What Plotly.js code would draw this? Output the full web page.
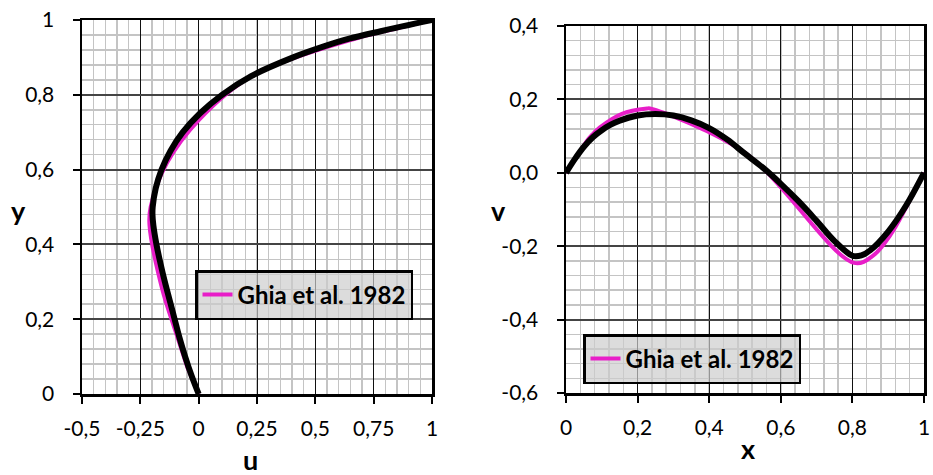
<!DOCTYPE html>
<html><head><meta charset="utf-8">
<script src="https://cdn.plot.ly/plotly-3.0.1.min.js"></script>
<style>html,body{margin:0;padding:0;background:#fff}</style>
</head><body>
<div id="chart" style="width:933px;height:475px"></div>
<script>
// Left panel: u along vertical centerline
const ghiaY = [0, 0.0547, 0.0625, 0.0703, 0.1016, 0.1719, 0.2813, 0.4531, 0.5, 0.6172, 0.7344, 0.8516, 0.9531, 0.9609, 0.9688, 0.9766, 1.0];
const ghiaU = [0, -0.03717, -0.04192, -0.04775, -0.06434, -0.10150, -0.15662, -0.21090, -0.20581, -0.13641, 0.00332, 0.23151, 0.68717, 0.73722, 0.78871, 0.84123, 1.0];
const simY = [0, 0.05, 0.1, 0.15, 0.2, 0.25, 0.3, 0.35, 0.4, 0.45, 0.48, 0.5, 0.55, 0.6, 0.65, 0.7, 0.75, 0.8, 0.85, 0.9, 0.93, 0.95, 0.97, 1.0];
const simU = [0, -0.031, -0.058, -0.082, -0.103, -0.124, -0.145, -0.164, -0.181, -0.194, -0.198, -0.197, -0.184, -0.159, -0.121, -0.068, 0.005, 0.100, 0.225, 0.405, 0.540, 0.645, 0.780, 1.0];
// Right panel: v along horizontal centerline
const ghiaX = [0, 0.0625, 0.0703, 0.0781, 0.0938, 0.1563, 0.2266, 0.2344, 0.5, 0.8047, 0.8594, 0.9063, 0.9453, 0.9531, 0.9609, 0.9688, 1.0];
const ghiaV = [0, 0.09233, 0.10091, 0.10890, 0.12317, 0.16077, 0.17507, 0.17527, 0.05454, -0.24533, -0.22445, -0.16914, -0.10313, -0.08864, -0.07391, -0.05906, 0];
const simX = [0, 0.025, 0.05, 0.075, 0.1, 0.125, 0.15, 0.2, 0.25, 0.3, 0.35, 0.4, 0.45, 0.5, 0.55, 0.6, 0.65, 0.7, 0.75, 0.8, 0.825, 0.85, 0.9, 0.95, 1.0];
const simV = [0, 0.038, 0.071, 0.097, 0.116, 0.131, 0.142, 0.156, 0.160, 0.156, 0.143, 0.122, 0.091, 0.052, 0.014, -0.030, -0.078, -0.131, -0.186, -0.226, -0.225, -0.211, -0.160, -0.089, 0];

const uTickVals = [-0.5, -0.25, 0, 0.25, 0.5, 0.75, 1];
const uTickText = ['-0,5', '-0,25', '0', '0,25', '0,5', '0,75', '1'];
const yTickVals = [0, 0.2, 0.4, 0.6, 0.8, 1];
const yTickText = ['0', '0,2', '0,4', '0,6', '0,8', '1'];
const xTickVals = [0, 0.2, 0.4, 0.6, 0.8, 1];
const xTickText = ['0', '0,2', '0,4', '0,6', '0,8', '1'];
const vTickVals = [-0.6, -0.4, -0.2, 0, 0.2, 0.4];
const vTickText = ['-0,6', '-0,4', '-0,2', '0,0', '0,2', '0,4'];
const legendName = 'Ghia et al. 1982';

const MAG = '#e81ec8';
const FONT = 'Lato, "Open Sans", sans-serif';

const traces = [
  {x: ghiaU, y: ghiaY, xaxis: 'x', yaxis: 'y', mode: 'lines', name: legendName,
   line: {color: MAG, width: 4, shape: 'spline', smoothing: 1}, legend: 'legend', showlegend: true},
  {x: simU, y: simY, xaxis: 'x', yaxis: 'y', mode: 'lines', name: 'sim',
   line: {color: '#000', width: 6, shape: 'spline', smoothing: 1}, showlegend: false},
  {x: ghiaX, y: ghiaV, xaxis: 'x2', yaxis: 'y2', mode: 'lines', name: legendName,
   line: {color: MAG, width: 4, shape: 'spline', smoothing: 1}, legend: 'legend2', showlegend: true},
  {x: simX, y: simV, xaxis: 'x2', yaxis: 'y2', mode: 'lines', name: 'sim2',
   line: {color: '#000', width: 6, shape: 'spline', smoothing: 1}, showlegend: false}
];

function axisBase(tv, tt, rng, minorD, minorT0, dom, anchor, gridCol, gridW) {
  return {
    range: rng, domain: dom, anchor: anchor,
    tickmode: 'array', tickvals: tv, ticktext: tt,
    ticks: 'outside', ticklen: 7, tickwidth: 2, tickcolor: '#000',
    showline: true, linecolor: '#000', linewidth: 2.5, mirror: true,
    showgrid: true, gridcolor: gridCol, gridwidth: gridW,
    zeroline: false,
    minor: {tickmode: 'linear', tick0: minorT0, dtick: minorD, showgrid: true,
            gridcolor: '#c4c4c4', gridwidth: 1.5, ticks: ''},
    tickfont: {family: FONT, size: 21, color: '#000'},
    fixedrange: true
  };
}

const W = 933, H = 475;
const xd1 = [82 / W, 432 / W], yd1 = [(H - 394) / H, (H - 20) / H];
const xd2 = [566 / W, 924 / W], yd2 = [(H - 393) / H, (H - 26) / H];

const legFont = {family: FONT, size: 24, weight: 'bold', color: '#000'};

const layout = {
  width: W, height: H,
  margin: {l: 0, r: 0, t: 0, b: 0},
  paper_bgcolor: '#fff', plot_bgcolor: '#fff',
  font: {family: FONT, color: '#000'},
  xaxis: Object.assign(axisBase(uTickVals, uTickText, [-0.5, 1], 0.05, -0.5, xd1, 'y', '#111', 1), {ticklabelstandoff: 7}),
  yaxis: Object.assign(axisBase(yTickVals, yTickText, [0, 1], 0.04, 0, yd1, 'x', '#444', 2), {ticklabelstandoff: 14}),
  xaxis2: Object.assign(axisBase(xTickVals, xTickText, [0, 1], 0.04, 0, xd2, 'y2', '#111', 1), {ticklabelstandoff: 7}),
  yaxis2: Object.assign(axisBase(vTickVals, vTickText, [-0.6, 0.4], 0.04, -0.6, yd2, 'x2', '#444', 2), {ticklabelstandoff: 14}),
  legend: {x: 195 / W, y: 1 - 270 / H, xanchor: 'left', yanchor: 'top',
           bgcolor: 'rgba(205,205,205,0.7)', bordercolor: '#000', borderwidth: 2.5,
           font: legFont},
  legend2: {x: 583 / W, y: 1 - 334 / H, xanchor: 'left', yanchor: 'top',
           bgcolor: 'rgba(205,205,205,0.7)', bordercolor: '#000', borderwidth: 2.5,
           font: legFont},
  annotations: [
    {text: 'u', xref: 'paper', yref: 'paper', x: 250 / W, y: 1 - 459 / H, showarrow: false,
     xanchor: 'center', yanchor: 'middle', font: {family: FONT, size: 27, weight: 'bold', color: '#000'}},
    {text: 'y', xref: 'paper', yref: 'paper', x: 18 / W, y: 1 - 210 / H, showarrow: false,
     xanchor: 'center', yanchor: 'middle', font: {family: FONT, size: 27, weight: 'bold', color: '#000'}},
    {text: 'x', xref: 'paper', yref: 'paper', x: 748 / W, y: 1 - 448 / H, showarrow: false,
     xanchor: 'center', yanchor: 'middle', font: {family: FONT, size: 27, weight: 'bold', color: '#000'}},
    {text: 'v', xref: 'paper', yref: 'paper', x: 499 / W, y: 1 - 210 / H, showarrow: false,
     xanchor: 'center', yanchor: 'middle', font: {family: FONT, size: 27, weight: 'bold', color: '#000'}}
  ]
};

Plotly.newPlot('chart', traces, layout, {displayModeBar: false, staticPlot: true});
</script>
</body></html>
